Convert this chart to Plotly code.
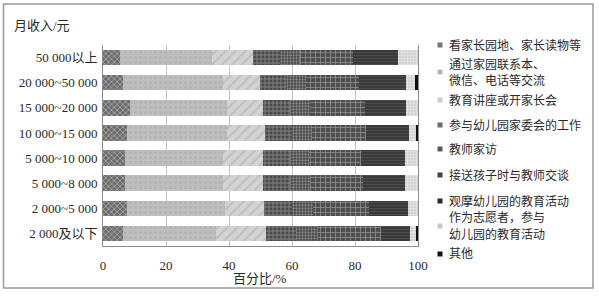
import plotly.graph_objects as go

categories = ["50 000以上", "20 000~50 000", "15 000~20 000", "10 000~15 000",
              "5 000~10 000", "5 000~8 000", "2 000~5 000", "2 000及以下"]

series_names = ["看家长园地、家长读物等", "通过家园联系本、<br>微信、电话等交流", "教育讲座或开家长会",
                "参与幼儿园家委会的工作", "教师家访", "接送孩子时与教师交谈",
                "观摩幼儿园的教育活动", "作为志愿者，参与<br>幼儿园的教育活动", "其他"]

s1 = [5.5, 6.5, 8.7, 7.6, 7.1, 7.1, 7.6, 6.3]
s2 = [29.0, 31.7, 30.6, 31.7, 31.1, 31.1, 31.2, 29.6]
s3 = [13.0, 11.6, 11.4, 12.1, 12.7, 12.7, 12.3, 15.8]
s4 = [8.7, 8.5, 8.8, 8.6, 8.4, 8.5, 8.9, 9.6]
s5 = [6.3, 6.2, 6.5, 6.4, 6.1, 6.3, 6.6, 7.1]
s6 = [16.9, 16.8, 17.3, 17.2, 16.4, 16.9, 17.8, 20.0]
s7 = [14.1, 15.0, 12.8, 13.5, 14.2, 13.4, 12.4, 9.0]
s8 = [6.5, 2.6, 3.9, 2.4, 4.0, 4.0, 3.2, 2.1]
s9 = [0.0, 1.1, 0.0, 0.5, 0.0, 0.0, 0.0, 0.5]

x_ticks = [0, 20, 40, 60, 80, 100]

series_values = [s1, s2, s3, s4, s5, s6, s7, s8, s9]

styles = [
    dict(bg="#6c6c6c", fg="#bdbdbd", shape="x", size=4, sol=0.3, sw="#777777"),
    dict(bg="#bebebe", fg="#b4b4b4", shape=".", size=5, sol=0.3, sw="#b5b5b5"),
    dict(bg="#d3d3d3", fg="#bcbcbc", shape="/", size=7, sol=0.25, sw="#cccccc"),
    dict(bg="#4a4a4a", fg="#9a9a9a", shape="+", size=4, sol=0.3, sw="#6a6a6a"),
    dict(bg="#464646", fg="#8a8a8a", shape=".", size=3, sol=0.45, sw="#5a5a5a"),
    dict(bg="#4e4e4e", fg="#999999", shape="+", size=5, sol=0.25, sw="#444444"),
    dict(bg="#383838", fg="#4c4c4c", shape="-", size=3, sol=0.4, sw="#2a2a2a"),
    dict(bg="#d2d2d2", fg="#ebebeb", shape="+", size=3, sol=0.3, sw="#c8c8c8"),
    dict(bg="#111111", fg="#111111", shape="", size=3, sol=0.3, sw="#111111"),
]

font_family = "Liberation Serif, Noto Sans CJK SC, serif"

fig = go.Figure()
for name, vals, st in zip(series_names, series_values, styles):
    fig.add_trace(go.Bar(
        y=categories, x=vals, orientation="h", name=name,
        marker=dict(color=st["bg"], line=dict(width=0),
                    pattern=dict(shape=st["shape"], fgcolor=st["fg"], bgcolor=st["bg"],
                                 size=st["size"], solidity=st["sol"], fillmode="replace")),
        showlegend=False,
    ))

# plot area in pixels
L, R, T, B = 103, 418, 45, 246
W, H = 599, 296
pw, ph = R - L, B - T

def px_x(p):
    return (p - L) / pw

def px_y(p):
    return (B - p) / ph

shapes = [dict(type="rect", xref="paper", yref="paper",
               x0=px_x(3.5), x1=px_x(593), y0=px_y(288), y1=px_y(4),
               line=dict(color="#9a9a9a", width=1.5), fillcolor="rgba(0,0,0,0)")]
annotations = []

# manual legend
legend_rows = [
    ([45], 45), ([64, 80], 72), ([100], 100), ([125], 125), ([149], 149),
    ([175], 175), ([201], 201), ([217, 234], 226), ([254], 254),
]
for name, st, (lines, my) in zip(series_names, styles, legend_rows):
    shapes.append(dict(type="rect", xref="paper", yref="paper",
                       x0=px_x(437.5), x1=px_x(442.5), y0=px_y(my + 2.5), y1=px_y(my - 2.5),
                       line=dict(width=0), fillcolor=st["sw"]))
    for txt, ly in zip(name.split("<br>"), lines):
        annotations.append(dict(xref="paper", yref="paper", x=px_x(447), y=px_y(ly),
                                xanchor="left", yanchor="middle", showarrow=False,
                                text=txt, font=dict(size=12, color="#2a2a2a", family=font_family)))

annotations.append(dict(xref="paper", yref="paper", x=px_x(12), y=px_y(25),
                        xanchor="left", yanchor="middle", showarrow=False,
                        text="月收入/元", font=dict(size=13, color="#2a2a2a", family=font_family)))
annotations.append(dict(xref="paper", yref="paper", x=px_x(260), y=px_y(278),
                        xanchor="center", yanchor="middle", showarrow=False,
                        text="百分比/%", font=dict(size=13, color="#2a2a2a", family=font_family)))

fig.update_layout(
    width=W, height=H,
    margin=dict(l=L, r=W - R, t=T, b=H - B, pad=0),
    barmode="stack", bargap=0.38,
    plot_bgcolor="white", paper_bgcolor="white",
    font=dict(family=font_family, size=13, color="#2a2a2a"),
    xaxis=dict(range=[0, 100], tickvals=x_ticks, ticktext=[str(v) for v in x_ticks],
               showgrid=True, gridcolor="#c4c4c4", gridwidth=1,
               showline=True, linecolor="#8a8a8a", linewidth=1, zeroline=False,
               ticks="", ticklabelstandoff=7, tickfont=dict(size=13)),
    yaxis=dict(categoryorder="array", categoryarray=categories, autorange="reversed",
               showline=True, linecolor="#8a8a8a", linewidth=1, mirror=True,
               ticks="", ticklabelstandoff=2, tickfont=dict(size=13), showgrid=False),
    shapes=shapes, annotations=annotations,
)

fig.write_html("out.html")
